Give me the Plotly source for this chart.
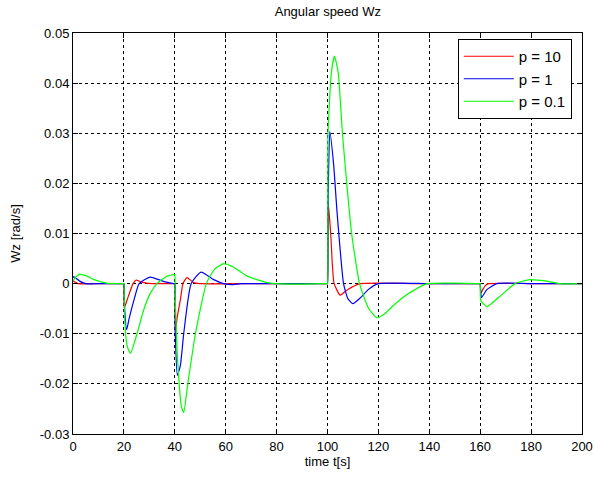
import plotly.graph_objects as go

# p = 10
t_red = [0, 0.5, 2, 10, 19.9, 20, 20.15, 21.7, 23.6, 24.8, 27, 31, 35, 39.9, 40, 40.15, 41, 42.2, 43.2, 44.8, 47.4, 50,
         75, 99.9, 100, 100.3, 101.3, 101.9, 102.6, 105, 107.6, 112.8, 135, 159.9, 160, 160.2, 161, 162, 163.3, 180, 200]
v_red = [0.0005, 0.0004, 0, 0, 0, 0, -0.0048, -0.0026, 0, 0.0007, 0.0003, 0, 0, 0, 0, -0.0098, -0.0065, -0.0032, 0,
         0.0012, 0.0002, 0, 0, 0, 0, 0.016, 0.0096, 0.0038, 0, -0.0023, -0.0013, 0, 0, 0, 0, -0.0019, -0.0012, -0.0004,
         0, 0, 0]

# p = 1
t_blue = [0, 0.3, 2.6, 5, 12, 19.9, 20, 20.3, 21.1, 22, 24, 26, 30.3, 35.8, 39.7, 40, 40.2, 41, 42.2, 43.5, 46.4, 50.3,
          55.3, 59.2, 63, 66, 80, 99.9, 100, 100.3, 100.9, 102.4, 103.7, 105, 106.3, 108, 110, 113, 116, 120, 140,
          159.9, 160, 160.5, 162.6, 166.5, 180, 200]
v_blue = [0.0012, 0.0014, 0.0005, 0, 0, 0, 0, -0.005, -0.0092, -0.0071, -0.0032, 0, 0.0013, 0.0004, 0, 0, -0.01,
          -0.0183, -0.0163, -0.01, 0, 0.0023, 0.0008, 0, -0.0002, 0, 0, 0, 0, 0.018, 0.0304, 0.0238, 0.0146, 0.0066,
          0, -0.003, -0.004, -0.0028, -0.0012, 0, 0, 0, 0, -0.0028, -0.0012, 0, 0, 0]

# p = 0.1
t_green = [0, 0.8, 2.6, 5, 7.8, 13, 19.9, 20, 20.2, 21.3, 22.6, 25.2, 27.8, 30.4, 33, 37, 39.6, 40, 40.1, 41.2, 42.6,
           43.5, 45.1, 48.1, 52.4, 55.5, 59.2, 63, 68.4, 76.2, 85, 99.9, 100, 100.2, 101.5, 102.7, 103.5, 104.3, 105.9,
           107.6, 109.5, 112.6, 116, 119.4, 122.5, 126, 130, 134, 139, 150, 159.9, 160, 160.2, 162.6, 167.8, 173.7,
           179.5, 186, 191.2, 200]
v_green = [0.0004, 0.0012, 0.0019, 0.0016, 0.0009, 0.0001, 0, 0, -0.006, -0.0125, -0.0139, -0.0099, -0.0052, -0.0019,
           0, 0.0015, 0.0018, 0.0018, -0.0015, -0.016, -0.0245, -0.0257, -0.02, -0.01, 0, 0.0028, 0.004, 0.0033, 0.0015,
           0.0002, -0.0001, 0, 0, 0.03, 0.042, 0.0454, 0.044, 0.0417, 0.0298, 0.0198, 0.0099, 0, -0.0048, -0.0068,
           -0.006, -0.0043, -0.0026, -0.0013, 0, 0.0001, 0, 0, -0.0033, -0.0046, -0.0025, 0, 0.0008, 0.0005, 0, 0]

x_ticks = [0, 20, 40, 60, 80, 100, 120, 140, 160, 180, 200]
y_ticks = [0.05, 0.04, 0.03, 0.02, 0.01, 0, -0.01, -0.02, -0.03]
y_labels = ["0.05", "0.04", "0.03", "0.02", "0.01", "0", "-0.01", "-0.02", "-0.03"]

fig = go.Figure()
fig.add_trace(go.Scatter(x=t_red, y=v_red, mode="lines", name="p = 10",
                         line=dict(color="#ff0000", width=1.2, shape="spline", smoothing=0.5)))
fig.add_trace(go.Scatter(x=t_blue, y=v_blue, mode="lines", name="p = 1",
                         line=dict(color="#0000ff", width=1.2, shape="spline", smoothing=0.5)))
fig.add_trace(go.Scatter(x=t_green, y=v_green, mode="lines", name="p = 0.1",
                         line=dict(color="#00ff00", width=1.2, shape="spline", smoothing=0.5)))

axis_style = dict(showline=True, linecolor="black", linewidth=1, mirror="ticks",
                  ticks="inside", ticklen=5, tickcolor="black",
                  showgrid=True, gridcolor="black", griddash="dot", gridwidth=1,
                  zeroline=False, automargin=False, tickfont=dict(size=13, color="black"))

fig.update_xaxes(range=[0, 200], tickvals=x_ticks, title=dict(text="time t[s]", standoff=4,
                 font=dict(size=13, color="black")), **axis_style)
fig.update_yaxes(range=[-0.03, 0.05], tickvals=y_ticks, ticktext=y_labels,
                 title=dict(text="Wz [rad/s]", standoff=16, font=dict(size=13, color="black")), **axis_style)

fig.update_layout(
    width=595, height=477,
    margin=dict(l=73, r=13, t=33, b=43),
    paper_bgcolor="white", plot_bgcolor="white",
    font=dict(family="Liberation Sans, Arial, sans-serif", size=13, color="black"),
    title=dict(text="Angular speed Wz", x=0.551, xanchor="center", y=0.975, yanchor="middle",
               font=dict(size=13, color="black")),
    legend=dict(x=0.756, y=0.985, xanchor="left", yanchor="top", bgcolor="white",
                bordercolor="black", borderwidth=1, font=dict(size=15),
                itemwidth=50, tracegroupgap=0),
    showlegend=True,
)

# page body has a default 8px margin; drop it so the figure sits at the window origin
fig.write_html("out.html", config={"displayModeBar": False},
               post_script="document.body.style.margin='0';")
